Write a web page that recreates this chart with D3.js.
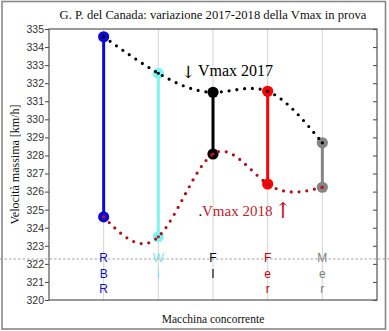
<!DOCTYPE html>
<html><head><meta charset="utf-8">
<script src="https://cdn.jsdelivr.net/npm/d3@7"></script>
<style>body{margin:0;background:#fff}svg{display:block}</style>
</head><body><svg id="c" width="389" height="331"></svg>
<script>
const teams = ["RBR", "Wi", "FI", "Fer", "Mer"];
const teamLetters = [["R","B","R"],["W","i"],["F","I"],["F","e","r"],["M","e","r"]];
const vmax2017 = [334.57, 332.55, 331.5, 331.55, 328.7];
const vmax2018 = [324.6, 323.5, 328.08, 326.42, 326.24];
const teamColors = ["#0a0ad2", "#80f4f4", "#000000", "#ff0000", "#858585"];
const letterColors = ["#1010c0", "#7fe0e0", "#000000", "#c00000", "#808080"];
const yTicks = d3.range(320, 336, 1);
const refLine = 322.27;

const svg = d3.select("#c");
const x = d3.scaleLinear().domain([0, 6]).range([49, 377]);
const y = d3.scaleLinear().domain([320, 335]).range([300, 29]);

// outer frame
svg.append("rect").attr("x", 2).attr("y", 1.5).attr("width", 383.5).attr("height", 327.5)
  .attr("fill", "#fff").attr("stroke", "#888").attr("stroke-width", 1.6);

// title
const title = svg.append("text").attr("x", 213).attr("y", 18.5).attr("text-anchor", "middle")
  .attr("font-family", "Liberation Serif, Times New Roman, serif").attr("font-size", 15)
  .attr("fill", "#111").text("G. P. del Canada: variazione 2017-2018 della Vmax in prova");
const tl = title.node().getComputedTextLength();
title.attr("font-size", 15 * 307 / tl);

// grid lines
svg.append("g").selectAll("line").data(teams).join("line")
  .attr("x1", (d, i) => x(i + 1)).attr("x2", (d, i) => x(i + 1))
  .attr("y1", y(335)).attr("y2", y(320))
  .attr("stroke", "#d4d4d4").attr("stroke-width", 1);

// left axis
const gl = svg.append("g").attr("transform", `translate(${x(0)},0)`)
  .call(d3.axisLeft(y).tickValues(yTicks).tickSize(4).tickPadding(1).tickFormat(d3.format("d")));
gl.select(".domain").remove();
gl.selectAll("line").attr("stroke", "#444");
gl.selectAll("text").attr("font-family", "Liberation Sans, Arial, sans-serif").attr("font-size", 10.5).attr("fill", "#333");
// right axis (inward ticks)
const gr = svg.append("g").attr("transform", `translate(${x(6)},0)`)
  .call(d3.axisLeft(y).tickValues(yTicks).tickSize(4).tickFormat(""));
gr.select(".domain").remove();
gr.selectAll("line").attr("stroke", "#444");

// plot box
svg.append("rect").attr("x", x(0)).attr("y", y(335)).attr("width", x(6) - x(0)).attr("height", y(320) - y(335))
  .attr("fill", "none").attr("stroke", "#555").attr("stroke-width", 1.2);

// reference dashed line
svg.append("line").attr("x1", 0).attr("x2", 389).attr("y1", y(refLine)).attr("y2", y(refLine))
  .attr("stroke", "#999").attr("stroke-width", 0.9).attr("stroke-dasharray", "2.5 2");

// team labels (vertical letters)
teamLetters.forEach((letters, i) => {
  svg.append("g").selectAll("text").data(letters).join("text")
    .attr("x", x(i + 1)).attr("y", (d, k) => 262 + k * 15.6)
    .attr("text-anchor", "middle")
    .attr("font-family", "Liberation Sans, Arial, sans-serif").attr("font-size", 12)
    .attr("fill", letterColors[i]).text(d => d);
});

// bars
svg.append("g").selectAll("line").data(teams).join("line")
  .attr("x1", (d, i) => x(i + 1)).attr("x2", (d, i) => x(i + 1))
  .attr("y1", (d, i) => y(vmax2017[i])).attr("y2", (d, i) => y(vmax2018[i]))
  .attr("stroke", (d, i) => teamColors[i]).attr("stroke-width", 3);

// markers
const mk = (vals) => {
  svg.append("g").selectAll("circle").data(vals).join("circle")
    .attr("cx", (d, i) => x(i + 1)).attr("cy", d => y(d)).attr("r", 5.6)
    .attr("fill", (d, i) => teamColors[i]);
};
mk(vmax2017); mk(vmax2018);

// dotted spline curves
const line = d3.line().x((d, i) => x(i + 1)).y(d => y(d)).curve(d3.curveNatural);
svg.append("path").attr("d", line(vmax2017)).attr("fill", "none")
  .attr("stroke", "#000").attr("stroke-width", 3.2).attr("stroke-linecap", "round").attr("stroke-dasharray", "0 7.8");
svg.append("path").attr("d", line(vmax2018)).attr("fill", "none")
  .attr("stroke", "#b0101c").attr("stroke-width", 3.2).attr("stroke-linecap", "round").attr("stroke-dasharray", "0 7.8");
// center dots
svg.append("g").selectAll("circle").data(vmax2017).join("circle")
  .attr("cx", (d, i) => x(i + 1)).attr("cy", d => y(d)).attr("r", 1.6).attr("fill", "#000");
svg.append("g").selectAll("circle").data(vmax2018).join("circle")
  .attr("cx", (d, i) => x(i + 1)).attr("cy", d => y(d)).attr("r", 1.6).attr("fill", "#c0102a");

// annotations
const serif = "Liberation Serif, Times New Roman, serif";
svg.append("text").attr("x", 188).attr("y", 78).attr("text-anchor", "middle")
  .attr("font-family", "DejaVu Serif, serif").attr("font-size", 17).attr("fill", "#000").text("↓");
svg.append("text").attr("x", 198).attr("y", 76).attr("font-family", serif).attr("font-size", 16)
  .attr("fill", "#000").text("Vmax 2017");
svg.append("text").attr("x", 198.5).attr("y", 216).attr("font-family", serif).attr("font-size", 15)
  .attr("fill", "#000").text(".");
svg.append("text").attr("x", 202).attr("y", 216).attr("font-family", serif).attr("font-size", 15)
  .attr("fill", "#c0202a").text("Vmax 2018");
svg.append("text").attr("x", 283).attr("y", 218).attr("text-anchor", "middle")
  .attr("font-family", "DejaVu Serif, serif").attr("font-size", 22).attr("fill", "#c0202a").text("↑");

// axis labels
svg.append("text").attr("transform", `translate(19,${(y(335) + y(320)) / 2}) rotate(-90)`)
  .attr("text-anchor", "middle").attr("font-family", serif).attr("font-size", 12).attr("fill", "#111")
  .text("Velocità massima [km/h]");
svg.append("text").attr("x", 213).attr("y", 323).attr("text-anchor", "middle")
  .attr("font-family", serif).attr("font-size", 11.5).attr("fill", "#111").text("Macchina concorrente");
</script></body></html>
